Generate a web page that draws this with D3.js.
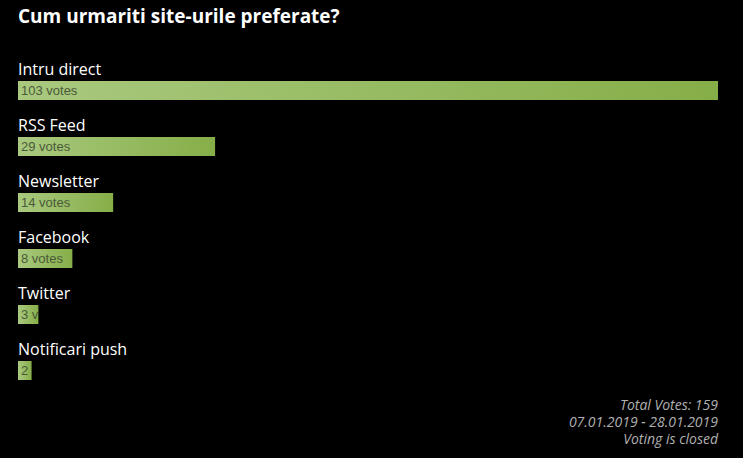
<!DOCTYPE html>
<html>
<head>
<meta charset="utf-8">
<script src="https://cdn.jsdelivr.net/npm/d3@7"></script>
<style>
  body { margin: 0; background: #000; }
  svg { display: block; }
</style>
</head>
<body>
<svg id="chart" width="743" height="458"></svg>
<script>
var title = 'Cum urmariti site-urile preferate?';
var answers = ['Intru direct', 'RSS Feed', 'Newsletter', 'Facebook', 'Twitter', 'Notificari push'];
var votes = [103, 29, 14, 8, 3, 2];
var footer = ['Total Votes: 159', '07.01.2019 - 28.01.2019', 'Voting is closed'];

var svg = d3.select('#chart');
var left = 18; // bars start here
var right = 718; // longest bar ends here

// width of bar relative to the most voted answer
var x = d3.scaleLinear()
	.domain([0, d3.max(votes)])
	.range([0, right - left]);

// each answer block: label + bar
var y = d3.scaleBand()
	.domain(answers)
	.range([57, 57 + 56 * answers.length]);

var defs = svg.append('defs');
var grad = defs.append('linearGradient')
	.attr('id', 'barGrad')
	.attr('x1', '0%').attr('y1', '0%')
	.attr('x2', '100%').attr('y2', '0%');
grad.append('stop').attr('offset', '0%').attr('stop-color', '#a9c97f');
grad.append('stop').attr('offset', '100%').attr('stop-color', '#86ae48');

svg.append('text')
	.attr('x', 18)
	.attr('y', 23)
	.attr('fill', '#fff')
	.attr('font-family', 'Open Sans')
	.attr('font-weight', 'bold')
	.attr('font-size', 19)
	.text(title);

var rows = svg.selectAll('g.answer')
	.data(answers)
	.enter().append('g')
	.attr('class', 'answer')
	.attr('transform', function(d) { return 'translate(0,' + y(d) + ')'; });

rows.append('text')
	.attr('x', left)
	.attr('y', 18)
	.attr('fill', '#fff')
	.attr('font-family', 'Open Sans')
	.attr('font-size', 16)
	.text(function(d) { return d; });

rows.append('clipPath')
	.attr('id', function(d, i) { return 'clip' + i; })
	.append('rect')
	.attr('x', left)
	.attr('y', 24)
	.attr('width', function(d, i) { return x(votes[i]); })
	.attr('height', 19);

rows.append('rect')
	.attr('x', left)
	.attr('y', 24)
	.attr('width', function(d, i) { return x(votes[i]); })
	.attr('height', 19)
	.attr('fill', 'url(#barGrad)');

rows.append('text')
	.attr('clip-path', function(d, i) { return 'url(#clip' + i + ')'; })
	.attr('x', left + 3)
	.attr('y', 37.5)
	.attr('fill', '#4a5939')
	.attr('font-family', 'Arial, Liberation Sans')
	.attr('font-size', 13)
	.text(function(d, i) { return votes[i] + ' votes'; });

svg.selectAll('text.footer')
	.data(footer)
	.enter().append('text')
	.attr('class', 'footer')
	.attr('x', right)
	.attr('y', function(d, i) { return 410 + i * 17; })
	.attr('text-anchor', 'end')
	.attr('fill', '#b0b0b0')
	.attr('font-family', 'Open Sans')
	.attr('font-style', 'italic')
	.attr('font-size', 14)
	.text(function(d) { return d; });
</script>
</body>
</html>
